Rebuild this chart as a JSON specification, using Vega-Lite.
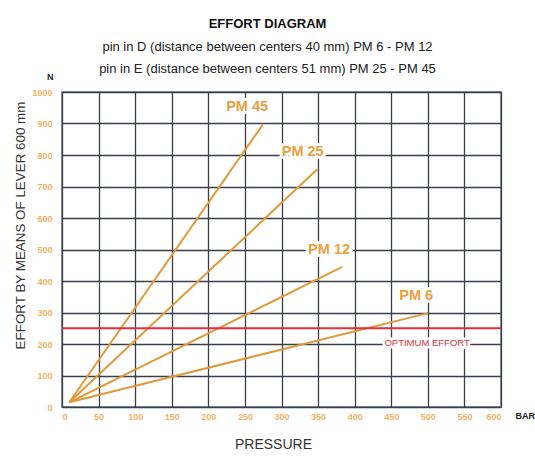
{
  "$schema": "https://vega.github.io/schema/vega-lite/v6.json",
  "width": 439,
  "height": 315,
  "autosize": {"type": "none"},
  "padding": {"left": 62, "top": 92, "right": 34, "bottom": 50},
  "background": "white",
  "title": {
    "text": "EFFORT DIAGRAM",
    "subtitle": ["pin in D (distance between centers 40 mm) PM 6 - PM 12", "pin in E (distance between centers 51 mm) PM 25 - PM 45"],
    "anchor": "middle",
    "dx": -14,
    "offset": -3,
    "font": "Liberation Sans",
    "fontSize": 13,
    "fontWeight": "bold",
    "color": "#111",
    "subtitleFont": "Liberation Sans",
    "subtitleFontSize": 13,
    "subtitleColor": "#222",
    "subtitleLineHeight": 22,
    "subtitlePadding": 10
  },
  "config": {
    "view": {"stroke": "#8a94a6", "strokeWidth": 2},
    "numberFormat": "d",
    "axis": {
      "labelFont": "Liberation Sans", "titleFont": "Liberation Sans",
      "grid": true, "gridColor": "#3a3f4a", "gridWidth": 1.3,
      "domain": false, "ticks": false, "labelOverlap": false,
      "labelColor": "#f2b265", "labelFontSize": 9, "labelFontWeight": "bold",
      "titleFontWeight": "normal", "titleColor": "#333"
    },
    "axisX": {"tickCount": 12, "labelPadding": 5, "titleFontSize": 14, "titlePadding": 16, "titleX": 211, "titleAlign": "center"},
    "axisY": {"tickCount": 10, "labelPadding": 10, "titleFontSize": 13.4, "titleX": -42, "titleY": 133, "titleAlign": "center", "titleBaseline": "middle"}
  },
  "datasets": {
    "lines": [
      {"series": "PM 45", "pressure": 10, "effort": 15},
      {"series": "PM 45", "pressure": 274, "effort": 895},
      {"series": "PM 25", "pressure": 10, "effort": 15},
      {"series": "PM 25", "pressure": 349, "effort": 755},
      {"series": "PM 12", "pressure": 10, "effort": 15},
      {"series": "PM 12", "pressure": 383, "effort": 445},
      {"series": "PM 6", "pressure": 10, "effort": 15},
      {"series": "PM 6", "pressure": 500, "effort": 298}
    ],
    "labels": [
      {"label": "PM 45", "pressure": 253, "effort": 952},
      {"label": "PM 25", "pressure": 329, "effort": 811},
      {"label": "PM 12", "pressure": 365, "effort": 500},
      {"label": "PM 6", "pressure": 484, "effort": 351}
    ],
    "optimum": [{"label": "OPTIMUM EFFORT", "effort": 250, "pressure": 499, "ly": 203}],
    "units": [
      {"label": "N", "pressure": -16, "effort": 1048},
      {"label": "BAR", "pressure": 633, "effort": -27}
    ]
  },
  "layer": [
    {
      "data": {"name": "lines"},
      "mark": {"type": "line", "color": "#e09a3a", "strokeWidth": 2},
      "encoding": {
        "x": {
          "field": "pressure", "type": "quantitative",
          "scale": {"domain": [0, 600], "nice": false},
          "axis": {"title": "PRESSURE"}
        },
        "y": {
          "field": "effort", "type": "quantitative",
          "scale": {"domain": [0, 1000], "nice": false},
          "axis": {"title": "EFFORT BY MEANS OF LEVER 600 mm"}
        },
        "detail": {"field": "series"}
      }
    },
    {
      "data": {"name": "optimum"},
      "mark": {"type": "rule", "color": "#e0303c", "strokeWidth": 2},
      "encoding": {"y": {"field": "effort", "type": "quantitative"}}
    },
    {
      "data": {"name": "optimum"},
      "mark": {"type": "text", "font": "Liberation Sans", "fontSize": 9.5, "stroke": "white", "strokeWidth": 5, "color": "white"},
      "encoding": {
        "x": {"field": "pressure", "type": "quantitative"},
        "y": {"field": "ly", "type": "quantitative"},
        "text": {"field": "label"}
      }
    },
    {
      "data": {"name": "optimum"},
      "mark": {"type": "text", "font": "Liberation Sans", "fontSize": 9.5, "color": "#d83040"},
      "encoding": {
        "x": {"field": "pressure", "type": "quantitative"},
        "y": {"field": "ly", "type": "quantitative"},
        "text": {"field": "label"}
      }
    },
    {
      "data": {"name": "labels"},
      "mark": {"type": "text", "font": "Liberation Sans", "fontSize": 14.5, "fontWeight": "bold", "stroke": "white", "strokeWidth": 6, "color": "white"},
      "encoding": {
        "x": {"field": "pressure", "type": "quantitative"},
        "y": {"field": "effort", "type": "quantitative"},
        "text": {"field": "label"}
      }
    },
    {
      "data": {"name": "labels"},
      "mark": {"type": "text", "font": "Liberation Sans", "fontSize": 14.5, "fontWeight": "bold", "color": "#e8a040"},
      "encoding": {
        "x": {"field": "pressure", "type": "quantitative"},
        "y": {"field": "effort", "type": "quantitative"},
        "text": {"field": "label"}
      }
    },
    {
      "data": {"name": "units"},
      "mark": {"type": "text", "font": "Liberation Sans", "fontSize": 9, "fontWeight": "bold", "color": "#222"},
      "encoding": {
        "x": {"field": "pressure", "type": "quantitative"},
        "y": {"field": "effort", "type": "quantitative"},
        "text": {"field": "label"}
      }
    }
  ]
}
